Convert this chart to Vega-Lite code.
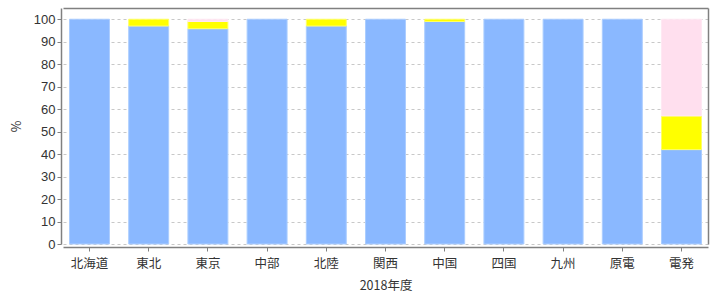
{
  "$schema": "https://vega.github.io/schema/vega-lite/v6.json",
  "autosize": "none",
  "width": 645,
  "height": 236,
  "padding": {"left": 63, "top": 8, "right": 12, "bottom": 56},
  "background": "white",
  "config": {
    "font": "Noto Sans CJK JP",
    "view": {"stroke": null},
    "axis": {
      "labelFont": "Noto Sans CJK JP",
      "titleFont": "Noto Sans CJK JP",
      "labelFontSize": 12.5,
      "titleFontSize": 12.5,
      "labelColor": "#333333",
      "titleColor": "#333333",
      "titleFontWeight": "normal",
      "domainColor": "#808080",
      "tickColor": "#808080",
      "domainWidth": 1.5
    }
  },
  "data": {
    "values": [
      {"area": "北海道", "src": "A", "o": 1, "v": 100},
      {"area": "東北", "src": "A", "o": 1, "v": 97},
      {"area": "東北", "src": "B", "o": 2, "v": 3},
      {"area": "東京", "src": "A", "o": 1, "v": 95.8},
      {"area": "東京", "src": "B", "o": 2, "v": 3.2},
      {"area": "東京", "src": "C", "o": 3, "v": 1},
      {"area": "中部", "src": "A", "o": 1, "v": 100},
      {"area": "北陸", "src": "A", "o": 1, "v": 97},
      {"area": "北陸", "src": "B", "o": 2, "v": 3},
      {"area": "関西", "src": "A", "o": 1, "v": 100},
      {"area": "中国", "src": "A", "o": 1, "v": 99},
      {"area": "中国", "src": "B", "o": 2, "v": 1},
      {"area": "四国", "src": "A", "o": 1, "v": 100},
      {"area": "九州", "src": "A", "o": 1, "v": 100},
      {"area": "原電", "src": "A", "o": 1, "v": 100},
      {"area": "電発", "src": "A", "o": 1, "v": 42},
      {"area": "電発", "src": "B", "o": 2, "v": 15},
      {"area": "電発", "src": "C", "o": 3, "v": 43}
    ]
  },
  "layer": [
    {
      "mark": {"type": "bar", "strokeWidth": 1},
      "encoding": {
        "x": {
          "field": "area",
          "type": "nominal",
          "sort": ["北海道", "東北", "東京", "中部", "北陸", "関西", "中国", "四国", "九州", "原電", "電発"],
          "scale": {"paddingInner": 0.325, "paddingOuter": 0.11},
          "axis": {"title": "2018年度", "labelAngle": 0, "offset": 3, "tickSize": 4, "labelPadding": 6, "titlePadding": 10}
        },
        "y": {
          "field": "v",
          "type": "quantitative",
          "stack": "zero",
          "scale": {"domain": [0, 105], "nice": false},
          "axis": {
            "title": "%",
            "values": [0, 10, 20, 30, 40, 50, 60, 70, 80, 90, 100],
            "offset": 2,
            "tickSize": 4,
            "labelFont": "Liberation Sans",
            "labelFontSize": 13,
            "gridColor": "#c8c8c8",
            "gridDash": [3, 3],
            "titlePadding": 10
          }
        },
        "fill": {
          "field": "src",
          "type": "nominal",
          "scale": {"domain": ["A", "B", "C"], "range": ["#8ab8ff", "#ffff00", "#ffdfee"]},
          "legend": null
        },
        "stroke": {
          "field": "src",
          "type": "nominal",
          "scale": {"domain": ["A", "B", "C"], "range": ["#abcdff", "#ffff66", "#ffe8f3"]},
          "legend": null
        },
        "order": {"field": "o", "type": "quantitative"}
      }
    },
    {
      "mark": {"type": "bar", "opacity": 0},
      "encoding": {
        "x": {
          "field": "area",
          "type": "nominal",
          "sort": ["北海道", "東北", "東京", "中部", "北陸", "関西", "中国", "四国", "九州", "原電", "電発"],
          "axis": {"orient": "top", "title": null, "labels": false, "ticks": false, "grid": false, "domain": true}
        },
        "y": {
          "field": "v",
          "type": "quantitative",
          "stack": "zero",
          "axis": {"orient": "right", "title": null, "labels": false, "ticks": false, "grid": false, "domain": true}
        },
        "order": {"field": "o", "type": "quantitative"}
      }
    }
  ],
  "resolve": {"axis": {"x": "independent", "y": "independent"}}
}
